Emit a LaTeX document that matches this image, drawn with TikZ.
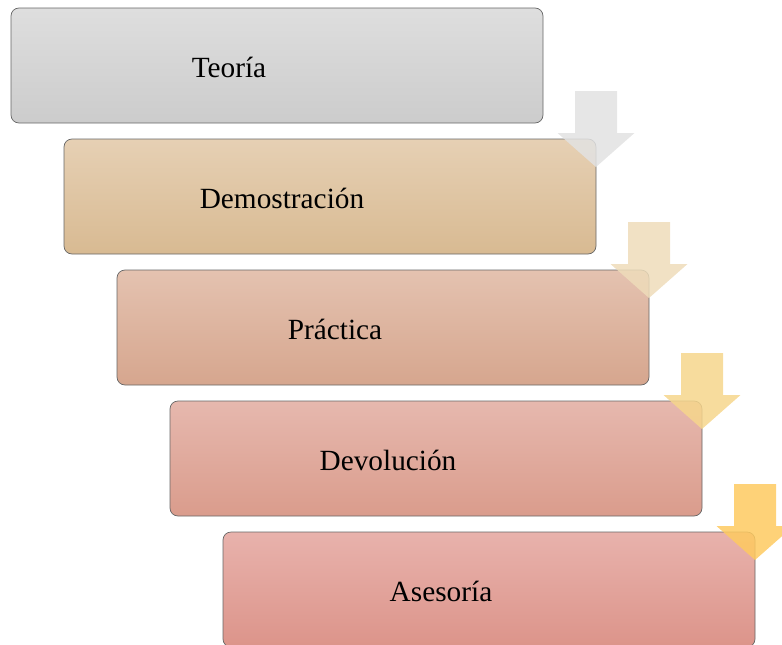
\documentclass[tikz,border=0pt]{standalone}
\usepackage{fontspec}
\setmainfont{Liberation Serif}
\begin{document}
\begin{tikzpicture}[x=1pt,y=-1pt,
  stepbox/.style={draw=black!60, line width=0.7pt, rounded corners=8pt},
  steplabel/.style={anchor=base, font=\fontsize{29.3}{33}\selectfont, text=black, inner sep=0pt},
  downarrow/.style={fill opacity=0.85, draw=none}]
\useasboundingbox (0,0) rectangle (782,645);
\definecolor{gA1}{RGB}{222,222,222}\definecolor{gA2}{RGB}{204,204,204}
\definecolor{gB1}{RGB}{230,208,180}\definecolor{gB2}{RGB}{216,186,146}
\definecolor{gC1}{RGB}{228,194,176}\definecolor{gC2}{RGB}{214,166,142}
\definecolor{gD1}{RGB}{230,184,174}\definecolor{gD2}{RGB}{218,156,140}
\definecolor{gE1}{RGB}{232,178,172}\definecolor{gE2}{RGB}{220,148,138}
\definecolor{arA}{RGB}{226,226,226}
\definecolor{arB}{RGB}{238,220,186}
\definecolor{arC}{RGB}{246,214,140}
\definecolor{arD}{RGB}{254,202,96}
% steps, each shifted 53 right and 131 down
\foreach \i/\name/\ct/\cb/\txt in {0/teoria/gA1/gA2/Teoría,1/demo/gB1/gB2/Demostración,2/practica/gC1/gC2/Práctica,3/devol/gD1/gD2/Devolución,4/asesoria/gE1/gE2/Asesoría}{
  \pgfmathsetmacro{\xx}{11+53*\i}
  \pgfmathsetmacro{\yy}{8+131*\i}
  \path[stepbox, top color=\ct, bottom color=\cb] (\xx,\yy) rectangle ++(532,115);
  \node[steplabel] (\name) at (\xx+218,\yy+69) {\txt};
}
% arrows between steps
\foreach \i/\c in {0/arA,1/arB,2/arC,3/arD}{
  \pgfmathsetmacro{\tx}{596+53*\i}
  \pgfmathsetmacro{\ty}{91+131*\i}
  \fill[downarrow, fill=\c] (\tx-21,\ty) -- (\tx+21,\ty) -- (\tx+21,\ty+42) -- (\tx+38.5,\ty+42)
     -- (\tx,\ty+76) -- (\tx-38.5,\ty+42) -- (\tx-21,\ty+42) -- cycle;
}
\end{tikzpicture}
\end{document}
